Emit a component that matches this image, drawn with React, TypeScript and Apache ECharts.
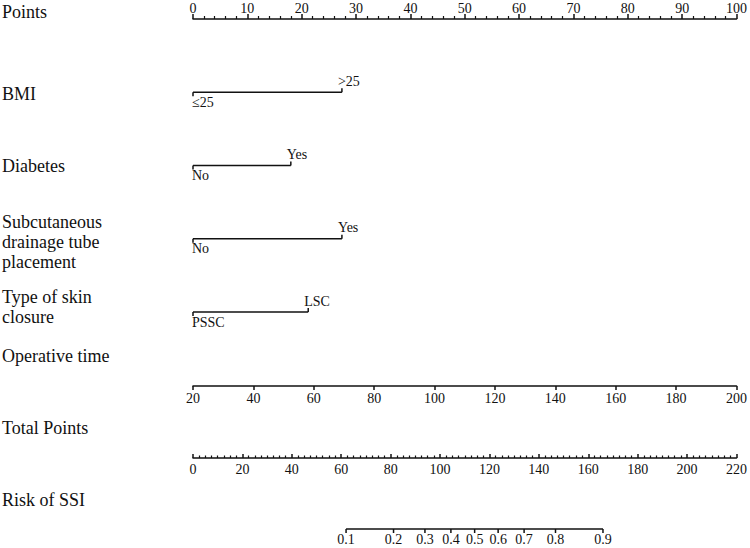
import React, { useEffect, useRef } from "react";
import * as echarts from "echarts";

// ---- data ----
const pointsMin = 0;
const pointsMax = 100;
const pointsStep = 10;

const rowIndex = [1, 2, 3, 4];
const lowLabels = ["≤25", "No", "No", "PSSC"];
const highLabels = [">25", "Yes", "Yes", "LSC"];
const lowPoints = [0, 0, 0, 0];
const highPoints = [27.4, 18.0, 27.4, 21.2];

const opTimeMin = 20;
const opTimeMax = 200;
const opTimeStep = 20;

const totalMin = 0;
const totalMax = 220;
const totalStep = 20;

const riskLabels = ["0.1", "0.2", "0.3", "0.4", "0.5", "0.6", "0.7", "0.8", "0.9"];
const riskTotalPoints = [61.9, 81.1, 93.8, 104.3, 113.9, 123.4, 133.9, 146.6, 165.8];

const leftTitles = [
  "Points",
  "BMI",
  "Diabetes",
  "Subcutaneous\ndrainage tube\nplacement",
  "Type of skin\nclosure",
  "Operative time",
  "Total Points",
  "Risk of SSI",
];

const FONT = '"Liberation Serif", "Times New Roman", "DejaVu Serif", serif';
const INK = "#111";
const LW = 1.5;

export default function App() {
  const ref = useRef<HTMLDivElement>(null);

  useEffect(() => {
    if (!ref.current) return;
    const chart = echarts.init(ref.current, undefined, { renderer: "svg" });

    const titleY = [12, 94, 166, 242, 307, 356, 428, 500];
    const lineStyle = { color: INK, width: LW };
    const labelBase = { color: INK, fontSize: 14, fontFamily: FONT };

    const option: any = {
      animation: false,
      backgroundColor: "#fff",
      grid: [
        { left: 193, right: 13, top: 19, bottom: 236 },
        { left: 193, right: 13, top: 376, height: 10 },
        { left: 193, right: 13, top: 448, height: 10 },
        { left: 193, right: 13, top: 519, height: 10 },
      ],
      xAxis: [
        {
          gridIndex: 0,
          type: "value",
          position: "top",
          min: pointsMin,
          max: pointsMax,
          interval: pointsStep,
          axisLine: { show: true, lineStyle },
          axisTick: { show: true, length: 5, lineStyle },
          minorTick: { show: true, splitNumber: 5, length: 3, lineStyle: { color: INK, width: 1.2 } },
          axisLabel: { ...labelBase, margin: 4 },
          splitLine: { show: false },
        },
        {
          gridIndex: 1,
          type: "value",
          position: "bottom",
          min: opTimeMin,
          max: opTimeMax,
          interval: opTimeStep,
          axisLine: { show: true, lineStyle },
          axisTick: { show: true, length: 4, lineStyle },
          axisLabel: { ...labelBase, margin: 5 },
          splitLine: { show: false },
        },
        {
          gridIndex: 2,
          type: "value",
          position: "bottom",
          min: totalMin,
          max: totalMax,
          interval: totalStep,
          axisLine: { show: true, lineStyle },
          axisTick: { show: true, inside: true, length: 4, lineStyle },
          minorTick: { show: true, splitNumber: 8, length: 2.5, lineStyle: { color: INK, width: 1.2 } },
          axisLabel: { ...labelBase, margin: 4 },
          splitLine: { show: false },
        },
        {
          gridIndex: 3,
          type: "value",
          min: totalMin,
          max: totalMax,
          show: false,
        },
      ],
      yAxis: [
        { gridIndex: 0, type: "value", min: 0, max: 4, inverse: true, show: false },
        { gridIndex: 1, type: "value", min: 0, max: 1, show: false },
        { gridIndex: 2, type: "value", min: 0, max: 1, show: false },
        { gridIndex: 3, type: "value", min: 0, max: 1, show: false },
      ],
      graphic: leftTitles.map((t, i) => ({
        type: "text",
        x: 2,
        y: titleY[i],
        style: {
          text: t,
          fill: INK,
          fontSize: 18,
          fontFamily: FONT,
          lineHeight: 20,
          align: "left",
          verticalAlign: "middle",
        },
      })),
      series: [
        {
          type: "custom",
          xAxisIndex: 0,
          yAxisIndex: 0,
          data: rowIndex.map((r, i) => [r, lowPoints[i], highPoints[i]]),
          renderItem: (params: any, api: any) => {
            const i = params.dataIndex;
            const row = api.value(0);
            const a = api.coord([api.value(1), row]);
            const b = api.coord([api.value(2), row]);
            const st = { stroke: INK, lineWidth: LW };
            return {
              type: "group",
              children: [
                { type: "line", shape: { x1: a[0], y1: a[1], x2: b[0], y2: b[1] }, style: st },
                { type: "line", shape: { x1: a[0], y1: a[1], x2: a[0], y2: a[1] + 4 }, style: st },
                { type: "line", shape: { x1: b[0], y1: b[1], x2: b[0], y2: b[1] - 4 }, style: st },
                {
                  type: "text",
                  x: a[0] - 1,
                  y: a[1] + 3,
                  style: {
                    text: lowLabels[i],
                    fill: INK,
                    fontSize: 14,
                    fontFamily: FONT,
                    align: "left",
                    verticalAlign: "top",
                  },
                },
                {
                  type: "text",
                  x: b[0] - 4,
                  y: b[1] - 4,
                  style: {
                    text: highLabels[i],
                    fill: INK,
                    fontSize: 14,
                    fontFamily: FONT,
                    align: "left",
                    verticalAlign: "bottom",
                  },
                },
              ],
            };
          },
        },
        {
          type: "custom",
          xAxisIndex: 3,
          yAxisIndex: 3,
          data: riskTotalPoints.map((p, i) => [p, 0, i]),
          renderItem: (params: any, api: any) => {
            const i = params.dataIndex;
            const p = api.coord([api.value(0), 0]);
            const st = { stroke: INK, lineWidth: LW };
            const children: any[] = [
              { type: "line", shape: { x1: p[0], y1: p[1], x2: p[0], y2: p[1] + 4 }, style: st },
              {
                type: "text",
                x: p[0],
                y: p[1] + 3,
                style: {
                  text: riskLabels[i],
                  fill: INK,
                  fontSize: 14,
                  fontFamily: FONT,
                  align: "center",
                  verticalAlign: "top",
                },
              },
            ];
            if (i === 0) {
              const last = api.coord([riskTotalPoints[riskTotalPoints.length - 1], 0]);
              children.push({
                type: "line",
                shape: { x1: p[0], y1: p[1], x2: last[0], y2: last[1] },
                style: st,
              });
            }
            return { type: "group", children };
          },
        },
      ],
    };

    chart.setOption(option);
    return () => chart.dispose();
  }, []);

  return (
    <div
      ref={ref}
      style={{ position: "fixed", left: 0, top: 0, width: 750, height: 548, background: "#fff" }}
    />
  );
}
